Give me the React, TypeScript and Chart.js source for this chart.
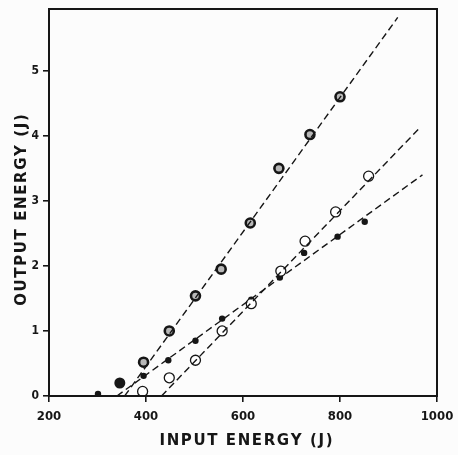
import React, { useEffect, useRef } from "react";
import { Chart, registerables } from "chart.js";

Chart.register(...registerables);

// Data
const ringX = [395, 448, 502, 555, 615, 674, 738, 800];
const ringY = [0.52, 1.0, 1.54, 1.95, 2.66, 3.5, 4.02, 4.6];

const openX = [393, 448, 502, 557, 617, 678, 728, 791, 859];
const openY = [0.07, 0.28, 0.55, 1.0, 1.42, 1.92, 2.38, 2.83, 3.38];

const dotX = [301, 395, 446, 502, 557, 617, 676, 726, 795, 851];
const dotY = [0.03, 0.31, 0.55, 0.85, 1.19, 1.48, 1.82, 2.2, 2.45, 2.68];

const bigDotX = [346];
const bigDotY = [0.2];

// Dashed fit lines (endpoints)
const fitRingX = [356, 919];
const fitRingY = [0, 5.82];
const fitOpenX = [432, 964];
const fitOpenY = [0, 4.12];
const fitDotX = [340, 970];
const fitDotY = [0, 3.4];

const xTicks = [200, 400, 600, 800, 1000];
const yTicks = [0, 1, 2, 3, 4, 5];

const xTitle = "INPUT ENERGY (J)";
const yTitle = "OUTPUT ENERGY (J)";

const pts = (xs: number[], ys: number[]) => xs.map((x, i) => ({ x, y: ys[i] }));

const INK = "#161616";
const tickFont = '"DejaVu Sans Condensed", "Liberation Sans Narrow", "Arial Narrow", sans-serif';

function spacedText(ctx: CanvasRenderingContext2D, text: string, cx: number, cy: number, spacing: number) {
  const chars = Array.from(text);
  const widths = chars.map((c) => ctx.measureText(c).width);
  const total = widths.reduce((a, b) => a + b, 0) + spacing * (chars.length - 1);
  let x = cx - total / 2;
  ctx.textAlign = "left";
  ctx.textBaseline = "middle";
  chars.forEach((c, i) => {
    ctx.fillText(c, x, cy);
    x += widths[i] + spacing;
  });
}

const framePlugin = {
  id: "framePlugin",
  beforeDraw(chart: any) {
    const ctx = chart.ctx;
    ctx.save();
    ctx.fillStyle = "#fcfcfc";
    ctx.fillRect(0, 0, chart.width, chart.height);
    ctx.restore();
  },
  afterDraw(chart: any) {
    const { ctx, chartArea } = chart;
    ctx.save();
    ctx.strokeStyle = INK;
    ctx.lineWidth = 2;
    ctx.strokeRect(chartArea.left, chartArea.top, chartArea.right - chartArea.left, chartArea.bottom - chartArea.top);
    ctx.fillStyle = INK;
    ctx.font = 'bold 15px "DejaVu Sans", sans-serif';
    spacedText(ctx, xTitle, 246, 441, 1.6);
    ctx.translate(22, 210);
    ctx.rotate(-Math.PI / 2);
    spacedText(ctx, yTitle, 0, 0, 1.6);
    ctx.restore();
  },
};

export default function App() {
  const ref = useRef<HTMLCanvasElement>(null);
  useEffect(() => {
    if (!ref.current) return;
    const dashed = (xs: number[], ys: number[]) => ({
      type: "line" as const,
      data: pts(xs, ys),
      borderColor: INK,
      borderWidth: 1.4,
      borderDash: [7, 4],
      pointRadius: 0,
      showLine: true,
      fill: false,
    });
    const chart = new Chart(ref.current, {
      type: "scatter",
      data: {
        datasets: [
          dashed(fitRingX, fitRingY),
          dashed(fitOpenX, fitOpenY),
          dashed(fitDotX, fitDotY),
          {
            data: pts(ringX, ringY),
            pointRadius: 4.5,
            pointBorderWidth: 2.6,
            pointBorderColor: INK,
            pointBackgroundColor: "#b8b8b8",
          },
          {
            data: pts(openX, openY),
            pointRadius: 5,
            pointBorderWidth: 1.3,
            pointBorderColor: INK,
            pointBackgroundColor: "#ffffff",
          },
          {
            data: pts(dotX, dotY),
            pointRadius: 3.2,
            pointBorderWidth: 0,
            pointBackgroundColor: INK,
          },
          {
            data: pts(bigDotX, bigDotY),
            pointRadius: 5.5,
            pointBorderWidth: 0,
            pointBackgroundColor: INK,
          },
        ] as any,
      },
      options: {
        animation: false,
        responsive: true,
        maintainAspectRatio: false,
        layout: { padding: { left: 0, right: 21, top: 9, bottom: 0 } },
        plugins: { legend: { display: false }, tooltip: { enabled: false } },
        scales: {
          x: {
            type: "linear",
            min: 200,
            max: 1000,
            afterBuildTicks: (s: any) => {
              s.ticks = xTicks.map((v) => ({ value: v }));
            },
            afterFit: (s: any) => {
              s.height = 59;
              s.paddingRight = 0;
              s.paddingLeft = 0;
            },
            ticks: {
              color: INK,
              font: { family: tickFont, size: 13, weight: "bold" },
              padding: 7,
              maxRotation: 0,
              callback: (v: any) => String(v),
            },
            grid: {
              drawOnChartArea: false,
              drawTicks: true,
              tickLength: 6,
              color: INK,
              lineWidth: 1.6,
            },
            border: { display: false },
          },
          y: {
            type: "linear",
            min: 0,
            max: 5.95,
            afterBuildTicks: (s: any) => {
              s.ticks = yTicks.map((v) => ({ value: v }));
            },
            afterFit: (s: any) => {
              s.width = 49;
              s.paddingTop = 0;
              s.paddingBottom = 0;
            },
            ticks: {
              color: INK,
              font: { family: tickFont, size: 12, weight: "bold" },
              padding: 4,
              callback: (v: any) => String(v),
            },
            grid: {
              drawOnChartArea: false,
              drawTicks: true,
              tickLength: 6,
              color: INK,
              lineWidth: 1.6,
            },
            border: { display: false },
          },
        },
      },
      plugins: [framePlugin],
    });
    return () => chart.destroy();
  }, []);
  return (
    <div style={{ position: "fixed", left: 0, top: 0, width: 458, height: 455 }}>
      <canvas ref={ref} />
    </div>
  );
}
